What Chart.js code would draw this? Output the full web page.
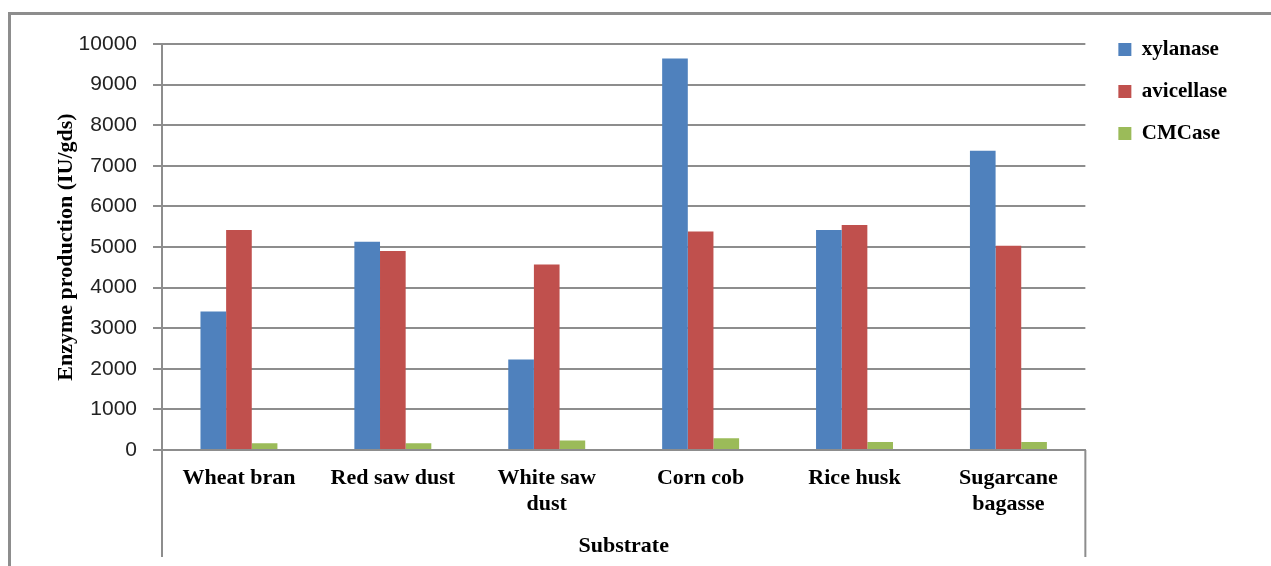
<!DOCTYPE html>
<html>
<head>
<meta charset="utf-8">
<script src="https://cdn.jsdelivr.net/npm/chart.js@4"></script>
<style>
  html, body { margin: 0; padding: 0; background: #fff; overflow: hidden; }
  #wrap { position: relative; width: 1271px; height: 566px; }
  #frame {
    position: absolute; left: 8px; top: 12px; width: 1400px; height: 700px;
    border: 3px solid #8d8d8d; box-sizing: border-box;
  }
  #enzymeChart { position: absolute; left: 0; top: 0; }
</style>
</head>
<body>
<div id="wrap">
  <div id="frame"></div>
  <canvas id="enzymeChart" width="1271" height="566"></canvas>
</div>
<script>
// Enzyme production by substrate

const substrates = ['Wheat bran', 'Red saw dust', ['White saw', 'dust'], 'Corn cob', 'Rice husk', ['Sugarcane', 'bagasse']];
const xylanase = [3410, 5130, 2230, 9640, 5420, 7370];
const avicellase = [5420, 4900, 4570, 5380, 5540, 5030];
const cmcase = [165, 165, 235, 290, 195, 195];
const yTicks = [0, 1000, 2000, 3000, 4000, 5000, 6000, 7000, 8000, 9000, 10000];

const GRID = '#8d8d8d';
const SERIF = "'Liberation Serif', 'Times New Roman', serif";

// Legend sits a bit off the plot and higher up, like the Excel original
const legendShift = {
  id: 'legendShift',
  afterLayout(chart) {
    const lg = chart.legend;
    if (!lg) return;
    const dx = chart.chartArea.right + 12 - lg.left;
    const dy = 18 - lg.top;
    lg.left += dx;
    lg.right += dx;
    lg.top += dy;
    lg.bottom += dy;
  }
};

// Multi-level category axis: the outer boxes run down below the labels
const axisBox = {
  id: 'axisBox',
  afterDraw(chart) {
    const { ctx, chartArea } = chart;
    const bottom = chartArea.bottom + 107;
    ctx.save();
    ctx.strokeStyle = GRID;
    ctx.lineWidth = 2;
    ctx.beginPath();
    ctx.moveTo(chartArea.left, chartArea.bottom);
    ctx.lineTo(chartArea.left, bottom);
    ctx.moveTo(chartArea.right, chartArea.bottom);
    ctx.lineTo(chartArea.right, bottom);
    ctx.stroke();
    ctx.restore();
  }
};

const ctx = document.getElementById('enzymeChart');

new Chart(ctx, {
  type: 'bar',
  data: {
    labels: substrates,
    datasets: [
      { label: 'xylanase', data: xylanase, backgroundColor: '#4F81BD' },
      { label: 'avicellase', data: avicellase, backgroundColor: '#C0504D' },
      { label: 'CMCase', data: cmcase, backgroundColor: '#9BBB59' }
    ]
  },
  options: {
    responsive: false,
    animation: false,
    devicePixelRatio: 1,
    categoryPercentage: 0.5,
    barPercentage: 1.0,
    layout: {
      padding: { left: 12, top: 44, right: 46, bottom: 0 }
    },
    plugins: {
      legend: {
        position: 'right',
        align: 'start',
        labels: {
          boxWidth: 13,
          boxHeight: 13,
          padding: 21,
          color: '#000',
          font: { family: SERIF, size: 21, weight: 'bold' }
        }
      },
      tooltip: { enabled: false }
    },
    scales: {
      x: {
        grid: { display: false },
        border: { display: true, color: GRID, width: 2 },
        ticks: {
          color: '#000',
          padding: 7,
          maxRotation: 0,
          autoSkip: false,
          font: { family: SERIF, size: 22, weight: 'bold', lineHeight: 1.18 }
        },
        title: {
          display: true,
          text: 'Substrate',
          color: '#000',
          padding: { top: 0, bottom: 6 },
          font: { family: SERIF, size: 22, weight: 'bold' }
        },
        afterFit(scale) { scale.height = 116; }
      },
      y: {
        min: 0,
        max: 10000,
        afterBuildTicks(scale) {
          scale.ticks = yTicks.map(v => ({ value: v }));
        },
        grid: { color: GRID, lineWidth: 2, tickLength: 9 },
        border: { display: true, color: GRID, width: 2 },
        ticks: {
          color: '#222',
          padding: 16,
          callback: v => String(v),
          font: { family: "'Liberation Sans', Arial, sans-serif", size: 21 }
        },
        title: {
          display: true,
          text: 'Enzyme production (IU/gds)',
          color: '#000',
          padding: { top: 41, bottom: 0 },
          font: { family: SERIF, size: 22, weight: 'bold' }
        },
        afterFit(scale) { scale.width = 150; }
      }
    }
  },
  plugins: [legendShift, axisBox]
});
</script>
</body>
</html>
